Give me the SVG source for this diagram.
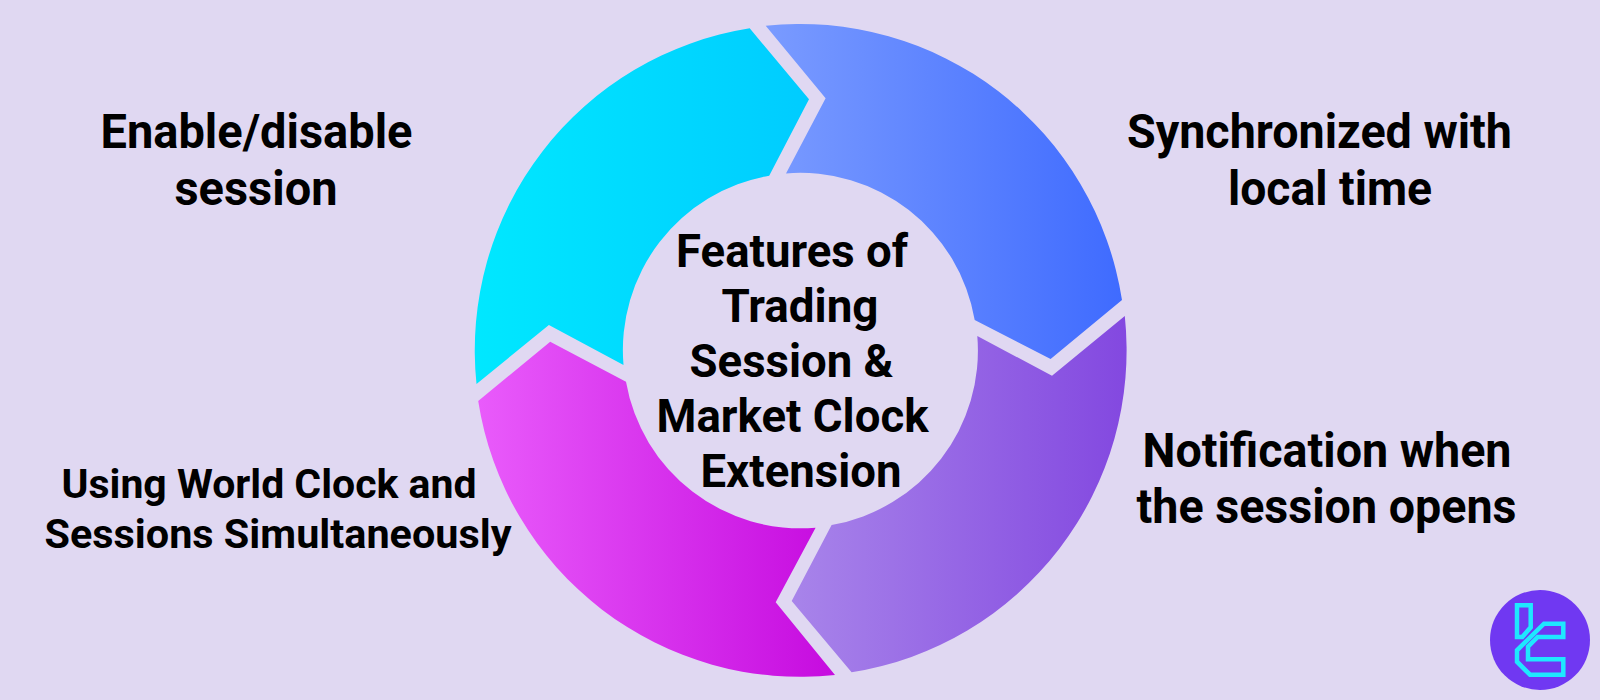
<svg xmlns="http://www.w3.org/2000/svg" width="1600" height="700" viewBox="0 0 1600 700">
<style>
text{font-family:Roboto,"Liberation Sans",sans-serif;font-weight:700;fill:#000;text-anchor:middle}
.a{font-size:47px}.b{font-size:47.500px}.c{font-size:40.500px}
.logo{fill:none;stroke:#1ee8ff;stroke-width:4.500}
</style>
<defs>
<linearGradient id="gc" x1="0" x2="1" y1="0" y2="0"><stop offset="0" stop-color="#00e8ff"/><stop offset="1" stop-color="#00ccff"/></linearGradient>
<linearGradient id="gb" x1="0" x2="1" y1="0" y2="0"><stop offset="0" stop-color="#7a9bff"/><stop offset="1" stop-color="#3f6bff"/></linearGradient>
<linearGradient id="gp" x1="0" x2="1" y1="0" y2="0"><stop offset="0" stop-color="#a884ea"/><stop offset="1" stop-color="#8348e0"/></linearGradient>
<linearGradient id="gm" x1="0" x2="1" y1="0" y2="0"><stop offset="0" stop-color="#e95bfb"/><stop offset="1" stop-color="#c60bdf"/></linearGradient>
</defs>
<rect width="1600" height="700" fill="#e0d8f2"/>
<g id="connectors"></g>
<g id="segment-cyan"><path fill="url(#gc)" d="M749.7 28.300L809 99.300L769.200 175.700A177 177 0 0 0 623.500 365L548.900 325L476.500 384A326 326 0 0 1 749.700 28.300Z"/></g>
<g id="segment-blue"><path fill="url(#gb)" d="M765.700 25.700L825.600 98.300L786 173.400A177 177 0 0 1 974.700 320L1050.600 359L1122 300A326 326 0 0 0 765.700 25.700Z"/></g>
<g id="segment-purple"><path fill="url(#gp)" d="M1124.800 316L1052 375.700L977.300 336A177 177 0 0 1 831.600 525L791.700 601L851.600 672.300A326 326 0 0 0 1124.800 316Z"/></g>
<g id="segment-magenta"><path fill="url(#gm)" d="M478.200 401L550.200 341.700L626 381.700A177 177 0 0 0 815.600 527.700L775.700 602.300L835 675A326 326 0 0 1 478.200 401Z"/></g>
<g id="center"><text class="a" x="792" y="266.500" textLength="232" lengthAdjust="spacingAndGlyphs">Features of</text><text class="a" x="800" y="322" textLength="157" lengthAdjust="spacingAndGlyphs">Trading</text><text class="a" x="791.500" y="376.500" textLength="204" lengthAdjust="spacingAndGlyphs">Session &amp;</text><text class="a" x="792.500" y="432" textLength="272" lengthAdjust="spacingAndGlyphs">Market Clock</text><text class="a" x="801" y="487" textLength="201" lengthAdjust="spacingAndGlyphs">Extension</text></g>
<g id="label-enable"><text class="b" x="256.500" y="148" textLength="312" lengthAdjust="spacingAndGlyphs">Enable/disable</text><text class="b" x="256" y="204.500" textLength="163" lengthAdjust="spacingAndGlyphs">session</text></g>
<g id="label-sync"><text class="b" x="1319.500" y="148" textLength="385" lengthAdjust="spacingAndGlyphs">Synchronized with</text><text class="b" x="1330" y="204.500" textLength="204" lengthAdjust="spacingAndGlyphs">local time</text></g>
<g id="label-notify"><text class="b" x="1327" y="466.500" textLength="369" lengthAdjust="spacingAndGlyphs">Notification when</text><text class="b" x="1326.500" y="523" textLength="380" lengthAdjust="spacingAndGlyphs">the session opens</text></g>
<g id="label-world"><text class="c" x="269" y="498" textLength="415" lengthAdjust="spacingAndGlyphs">Using World Clock and</text><text class="c" x="278" y="547.500" textLength="467" lengthAdjust="spacingAndGlyphs">Sessions Simultaneously</text></g>
<g id="logo"><circle cx="1540" cy="640" r="50" fill="#7038f2"/>
<path class="logo" d="M1517 605.300H1530.700V627.300L1522.300 637H1517Z"/>
<path class="logo" d="M1544 623.700H1563.300V637H1537.700L1528 646.700V659.300H1563.300V674.700H1530L1517 661.700V650.300Z"/></g>
</svg>
